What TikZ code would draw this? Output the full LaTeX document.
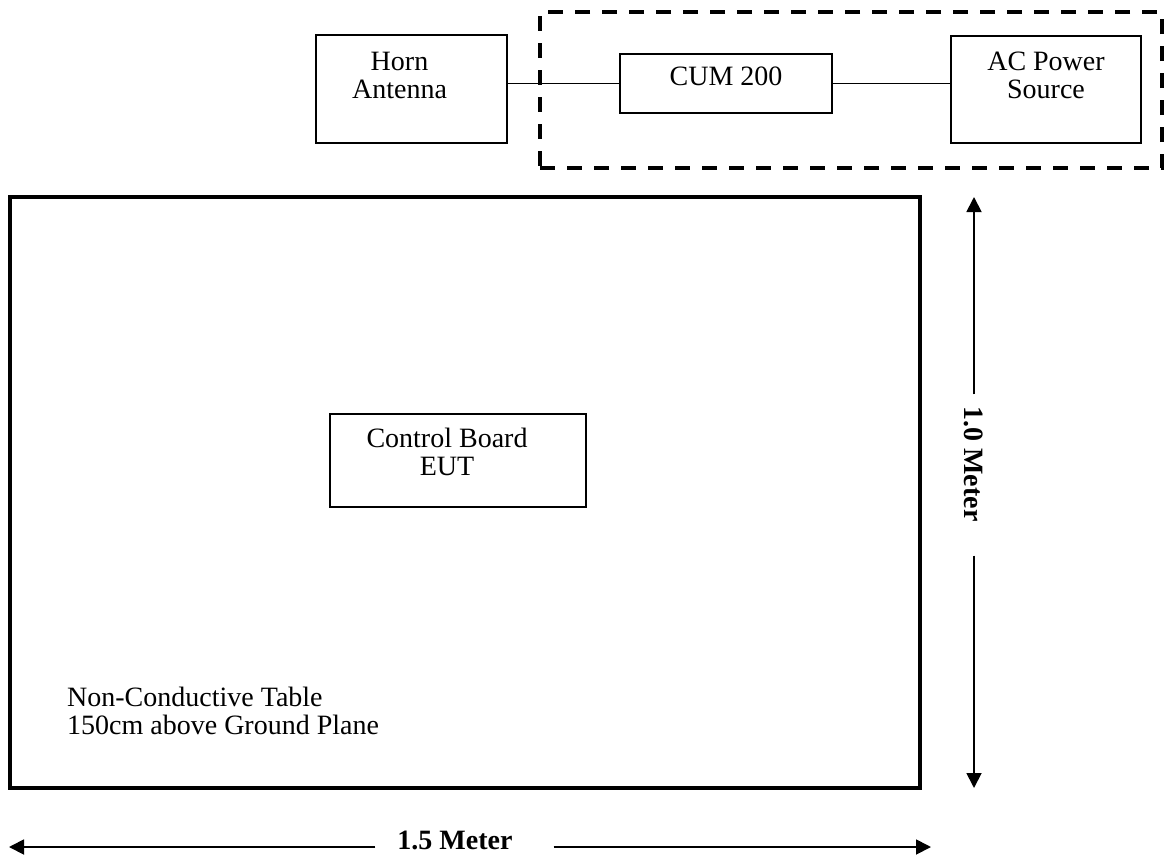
\documentclass[tikz,border=0pt]{standalone}
\usepackage{fontspec}
\setmainfont{Liberation Serif}
\usetikzlibrary{positioning}
\usetikzlibrary{arrows.meta}

\begin{document}
\begin{tikzpicture}[
        x=1pt, y=-1pt,
        align=center,
        font=\fontsize{28}{28}\selectfont,
        box/.style = {draw, line width=2pt, inner sep=0pt},
        txt/.style = {inner sep=0pt},
        wire/.style = {line width=1.8pt},
        tablebox/.style = {draw, line width=4pt, inner sep=0pt},
        groupbox/.style = {draw, line width=3.2pt, dash pattern=on 15pt off 12pt, inner sep=0pt},
        dim/.style = {line width=1.8pt, -{Triangle[length=15pt,width=15pt]}},
        dimtxt/.style = {inner sep=0pt, font=\fontsize{28}{28}\selectfont\bfseries}
    ]

        \useasboundingbox (0,0) rectangle (1168,857);

        % top row
        \node[groupbox, minimum width=622pt, minimum height=156pt] (grp) at (851,90) {};
        \node[box, minimum width=191pt, minimum height=108pt] (horn) at (411.5,89) {};
        \node[box, minimum width=212pt, minimum height=59pt] (cum) at (726,83.5) {};
        \node[box, minimum width=190pt, minimum height=107pt] (ac) at (1046,89.5) {};

        \node[txt, below=18pt of horn.north, xshift=-12pt] (horn-txt) {Horn\\Antenna};
        \node[txt, below=14pt of cum.north] (cum-txt) {CUM 200};
        \node[txt, below=17pt of ac.north] (ac-txt) {AC Power\\Source};

        \draw[wire] (horn.east |- cum) -- (cum.west);
        \draw[wire] (cum.east) -- (cum.east -| ac.west);

        % table
        \node[tablebox, minimum width=910pt, minimum height=591pt] (table) at (465,492.5) {};
        \node[box, minimum width=256pt, minimum height=93pt] (eut) at (458,460.5) {};
        \node[txt, below=15pt of eut.north, xshift=-11pt] (eut-txt) {Control Board\\EUT};
        \node[txt, anchor=north west, align=left] (table-txt) at (67,687) {Non-Conductive Table\\150cm above Ground Plane};

        % dimensions
        \coordinate (v-top) at (974,197);
        \coordinate (v-bot) at (974,788);
        \node[dimtxt, rotate=-90] (v-txt) at (974,464) {1.0 Meter};
        \draw[dim] ([yshift=12pt]v-txt.west -| v-top) -- (v-top);
        \draw[dim] ([yshift=-34pt]v-txt.east -| v-bot) -- (v-bot);

        \coordinate (h-left) at (9,847);
        \coordinate (h-right) at (931,847);
        \node[dimtxt, anchor=base] (h-txt) at (455,849) {1.5 Meter};
        \draw[dim] ([xshift=-22pt]h-txt.west |- h-left) -- (h-left);
        \draw[dim] ([xshift=41pt]h-txt.east |- h-right) -- (h-right);

    \end{tikzpicture}
\end{document}
